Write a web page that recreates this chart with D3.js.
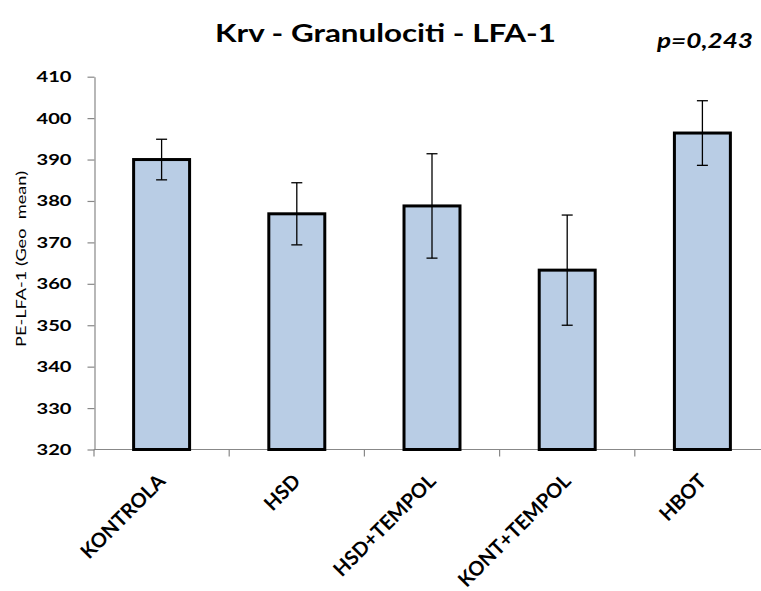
<!DOCTYPE html>
<html>
<head>
<meta charset="utf-8">
<script src="https://cdn.jsdelivr.net/npm/d3@7"></script>
<style>
  html, body { margin: 0; padding: 0; background: #fff; }
  svg { display: block; }
</style>
</head>
<body>
<script>
const categories = ["KONTROLA", "HSD", "HSD+TEMPOL", "KONT+TEMPOL", "HBOT"];
const means = [390.0, 376.9, 378.8, 363.3, 396.4];
const errors = [4.9, 7.5, 12.6, 13.3, 7.8];
const yTicks = [320, 330, 340, 350, 360, 370, 380, 390, 400, 410];
const title = "Krv - Granulociti - LFA-1";
const pValue = "p=0,243";
const yTitle = "PE-LFA-1 (Geo  mean)";

const W = 761, H = 591;
const svg = d3.select("body").append("svg").attr("width", W).attr("height", H);

const y = d3.scaleLinear().domain([320, 410]).range([449.5, 76.7]);
const x = d3.scaleBand().domain(categories).range([94, 770]).paddingInner(0.586).paddingOuter(0.293);

const axisColor = "#888888";
const font = "Lato, 'Open Sans', sans-serif";

// Y axis
const yAxis = svg.append("g").attr("transform", "translate(94.5,0)")
  .call(d3.axisLeft(y).tickValues(yTicks).tickSize(7).tickSizeOuter(0).tickPadding(16).tickFormat(d3.format("d")));
yAxis.select(".domain").attr("stroke", axisColor).attr("stroke-width", 1.2);
yAxis.selectAll(".tick line").attr("stroke", axisColor).attr("stroke-width", 1.2);
yAxis.selectAll(".tick text")
  .attr("fill", "#000").style("font-family", font).style("font-weight", "700").style("font-size", "15.5px")
  .attr("textLength", 35).attr("lengthAdjust", "spacingAndGlyphs");

// X axis line + boundary ticks
const xr = x.range();
const baseY = y(320);
svg.append("line").attr("x1", xr[0]).attr("x2", xr[1]).attr("y1", baseY).attr("y2", baseY)
  .attr("stroke", axisColor).attr("stroke-width", 1.2);
const bounds = d3.range(categories.length + 1).map(i => xr[0] + i * x.step());
svg.selectAll(".xtick").data(bounds).enter().append("line")
  .attr("x1", d => d).attr("x2", d => d).attr("y1", baseY).attr("y2", baseY + 7)
  .attr("stroke", axisColor).attr("stroke-width", 1.2);

// Bars
svg.selectAll(".bar").data(categories).enter().append("rect")
  .attr("x", d => x(d)).attr("width", x.bandwidth())
  .attr("y", (d, i) => y(means[i])).attr("height", (d, i) => y(320) - y(means[i]))
  .attr("fill", "#b9cde5").attr("stroke", "#000").attr("stroke-width", 3);

// Error bars
const cap = 5.5;
const eb = svg.selectAll(".eb").data(categories).enter().append("g");
eb.append("line")
  .attr("x1", d => x(d) + x.bandwidth() / 2).attr("x2", d => x(d) + x.bandwidth() / 2)
  .attr("y1", (d, i) => y(means[i] + errors[i])).attr("y2", (d, i) => y(means[i] - errors[i]))
  .attr("stroke", "#000").attr("stroke-width", 1.3);
eb.append("line")
  .attr("x1", d => x(d) + x.bandwidth() / 2 - cap).attr("x2", d => x(d) + x.bandwidth() / 2 + cap)
  .attr("y1", (d, i) => y(means[i] + errors[i])).attr("y2", (d, i) => y(means[i] + errors[i]))
  .attr("stroke", "#000").attr("stroke-width", 1.3);
eb.append("line")
  .attr("x1", d => x(d) + x.bandwidth() / 2 - cap).attr("x2", d => x(d) + x.bandwidth() / 2 + cap)
  .attr("y1", (d, i) => y(means[i] - errors[i])).attr("y2", (d, i) => y(means[i] - errors[i]))
  .attr("stroke", "#000").attr("stroke-width", 1.3);

// Category labels
svg.selectAll(".xlab").data(categories).enter().append("text")
  .attr("transform", d => `translate(${x(d) + x.bandwidth() / 2 + 5},${baseY + 33}) rotate(-45)`)
  .attr("text-anchor", "end")
  .style("font-family", font).style("font-weight", "700").style("font-size", "20px")
  .text(d => d);

// Y title
svg.append("text")
  .attr("transform", "translate(26,347) rotate(-90)")
  .attr("textLength", 176).attr("lengthAdjust", "spacingAndGlyphs")
  .style("font-family", font).style("font-size", "14px").style("white-space", "pre")
  .text(yTitle);

// Title
svg.append("text")
  .attr("x", 215).attr("y", 42)
  .attr("textLength", 341).attr("lengthAdjust", "spacingAndGlyphs")
  .style("font-family", font).style("font-weight", "700").style("font-size", "24px")
  .text(title);

// p-value
svg.append("text")
  .attr("x", 657).attr("y", 48)
  .attr("textLength", 96).attr("lengthAdjust", "spacingAndGlyphs")
  .style("font-family", font).style("font-weight", "700").style("font-style", "italic").style("font-size", "20px")
  .text(pValue);
</script>
</body>
</html>
